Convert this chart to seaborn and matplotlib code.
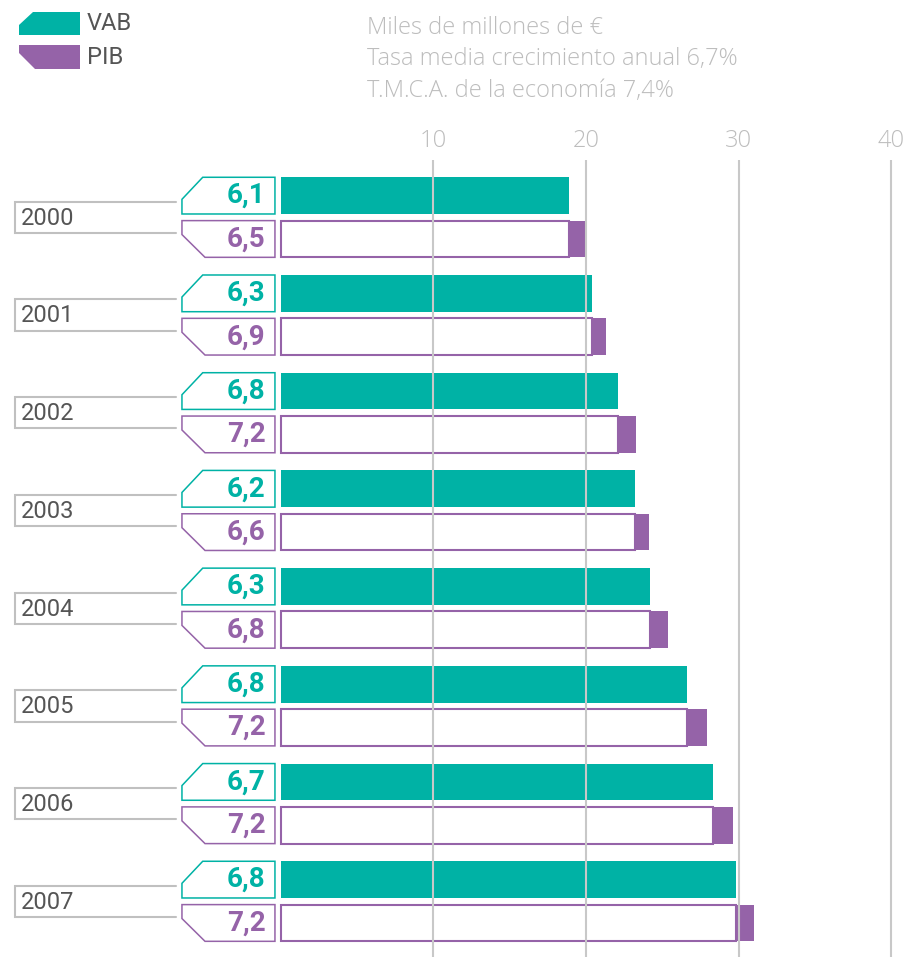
import pandas as pd
import matplotlib.pyplot as plt
import seaborn as sns
from matplotlib.patches import Polygon

# datos (miles de millones de euros)
years = ['2000', '2001', '2002', '2003', '2004', '2005', '2006', '2007']
vab = [18.9, 20.4, 22.1, 23.2, 24.2, 26.6, 28.3, 29.8]
pib = [20.0, 21.3, 23.25, 24.1, 25.35, 27.9, 29.65, 31.0]
vab_rate = ['6,1', '6,3', '6,8', '6,2', '6,3', '6,8', '6,7', '6,8']
pib_rate = ['6,5', '6,9', '7,2', '6,6', '6,8', '7,2', '7,2', '7,2']
x_ticks = [10, 20, 30, 40]
header_lines = ['Miles de millones de €',
                'Tasa media crecimiento anual 6,7%',
                'T.M.C.A. de la economía 7,4%']

TEAL = '#00b2a5'
PURPLE = '#9563a8'
GRID = '#c8c8c8'
LIGHT_TXT = '#bdbdbd'
DARK_TXT = '#555555'
LIGHT_FONT = ['Open Sans', 'DejaVu Sans']

W, H = 904, 957

sns.set_style('white')
plt.rcParams['font.family'] = ['Roboto', 'DejaVu Sans']

df = pd.DataFrame({
    'anio': years * 2,
    'valor': vab + pib,
    'serie': ['VAB'] * len(years) + ['PIB'] * len(years),
})

fig = plt.figure(figsize=(W / 100, H / 100), dpi=100)
ax = fig.add_axes([0, 0, 1, (H - 160) / H])

sns.barplot(data=df, x='valor', y='anio', hue='serie', orient='h',
            palette={'VAB': TEAL, 'PIB': PURPLE}, saturation=1,
            width=0.887, gap=0.153, errorbar=None, legend=False,
            linewidth=0, ax=ax)

vab_bars = ax.containers[0]
pib_bars = ax.containers[1]

# parte blanca de la barra del PIB (hasta el valor del VAB)
for i, bar in enumerate(pib_bars):
    y0, h = bar.get_y(), bar.get_height()
    ax.barh(y0 + h / 2, vab[i], height=h, left=0, color='white',
            edgecolor=PURPLE, linewidth=1.5, zorder=1.2)

# etiquetas con la tasa de crecimiento
xl, xr = -6.46, -0.37
for i in range(len(years)):
    b = vab_bars[i]
    top, bot = b.get_y(), b.get_y() + b.get_height()
    hh = bot - top
    ax.add_patch(Polygon([(xr, top), (-5.1, top), (xl, top + 0.6 * hh),
                          (xl, bot), (xr, bot)], closed=True,
                         facecolor='white', edgecolor=TEAL, lw=1.1,
                         clip_on=False))
    ax.text(-1.0, (top + bot) / 2, vab_rate[i], ha='right', va='center',
            fontsize=20, fontweight='bold', color=TEAL)

    b = pib_bars[i]
    top, bot = b.get_y(), b.get_y() + b.get_height()
    hh = bot - top
    ax.add_patch(Polygon([(xl, top), (xl, top + 0.38 * hh), (-4.95, bot),
                          (xr, bot), (xr, top)], closed=True,
                         facecolor='white', edgecolor=PURPLE, lw=1.1,
                         clip_on=False))
    ax.text(-1.0, (top + bot) / 2, pib_rate[i], ha='right', va='center',
            fontsize=20, fontweight='bold', color=PURPLE)

    # caja del anio
    ax.plot([-6.85, -17.39, -17.39, -6.85], [i - 0.16, i - 0.16, i + 0.16, i + 0.16],
            color='#c0c0c0', lw=1.5, clip_on=False, solid_joinstyle='miter')
    ax.text(-17.0, i + 0.01, years[i], ha='left', va='center',
            fontsize=17, color=DARK_TXT)

ax.set_xlim(-280.6 / 15.27, (W - 280.6) / 15.27)
ax.set_ylim(7 + (957 - 901.3) / 97.71, -(217.3 - 160) / 97.71)
ax.set_xticks(x_ticks)
ax.set_xticklabels([str(t) for t in x_ticks], fontsize=17,
                   color=LIGHT_TXT, fontweight='light', family=LIGHT_FONT)
ax.xaxis.tick_top()
ax.tick_params(axis='x', length=0, pad=5)
ax.set_yticks([])
ax.set_xlabel('')
ax.set_ylabel('')
ax.grid(axis='x', color=GRID, linewidth=1.5)
ax.set_axisbelow(False)
sns.despine(ax=ax, left=True, bottom=True, top=True, right=True)


def px(x, y):
    return (x / W, 1 - y / H)


# leyenda
fig.add_artist(Polygon([px(33, 12), px(19, 25), px(19, 35), px(80, 35), px(80, 12)],
                       closed=True, facecolor=TEAL, edgecolor='none',
                       transform=fig.transFigure))
fig.add_artist(Polygon([px(19, 45), px(19, 53), px(35, 69), px(80, 69), px(80, 45)],
                       closed=True, facecolor=PURPLE, edgecolor='none',
                       transform=fig.transFigure))
fig.text(*px(87, 23.5), 'VAB', ha='left', va='center', fontsize=17, color=DARK_TXT)
fig.text(*px(87, 57), 'PIB', ha='left', va='center', fontsize=17, color=DARK_TXT)

# texto de cabecera
for k, line in enumerate(header_lines):
    fig.text(*px(367, 25 + k * 31.5), line, ha='left', va='center_baseline',
             fontsize=17, color=LIGHT_TXT, fontweight='light', family=LIGHT_FONT)

fig.savefig('out.png', dpi=100)
